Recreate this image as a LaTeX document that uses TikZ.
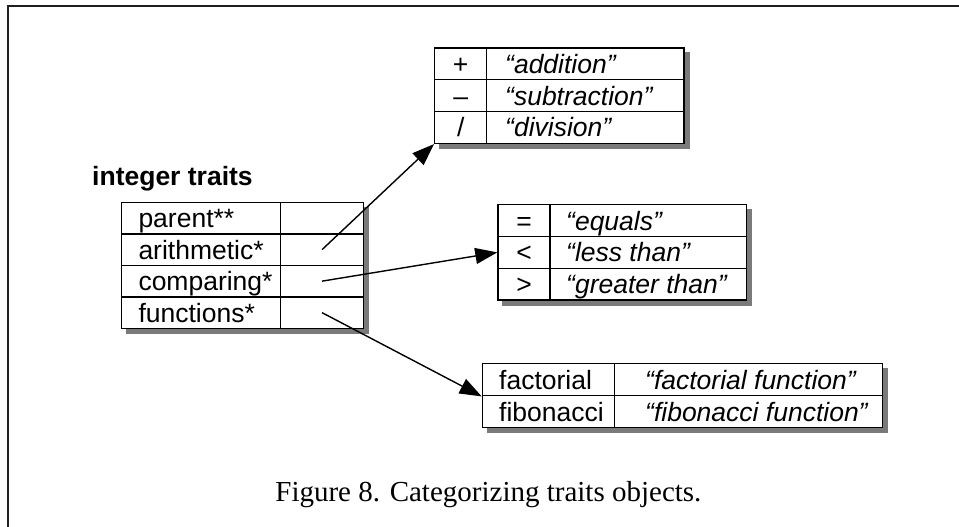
\documentclass[tikz,border=0pt]{standalone}
\usepackage{fontspec}
\setmainfont{Liberation Serif}
\newfontfamily\arialf{Liberation Sans}
\usetikzlibrary{arrows.meta,backgrounds}
\begin{document}
\begin{tikzpicture}[x=1pt,y=-1pt,
  cell/.style={draw, line width=1.4pt, fill=white, inner sep=0pt, anchor=north west},
  txt/.style={font=\arialf\fontsize{26.5}{30}\selectfont, inner sep=0pt, text height=18.9pt, text depth=0pt},
  ltxt/.style={txt, anchor=west},
  itxt/.style={txt, anchor=west, font=\arialf\itshape\fontsize{26.5}{30}\selectfont},
  ctxt/.style={txt, anchor=center},
  shadowfill/.style={fill=black!52},
  arr/.style={line width=1.4pt, -{Triangle[length=22pt,width=16pt]}}]
\useasboundingbox (0,0) rectangle (959,527);
% frame
\draw[line width=2.2pt, black!88] (959,6) -- (8,6) -- (8,527);
% title
\node[anchor=base west, inner sep=0pt, font=\arialf\bfseries\fontsize{26.5}{30}\selectfont] (title) at (92,185) {integer traits};
% main table
\node[cell, minimum width=159.3pt, minimum height=31.5pt] (mPa) at (120.7,201.7) {};
\node[cell, minimum width=82.7pt, minimum height=31.5pt] (mPv) at (280,201.7) {};
\node[cell, minimum width=159.3pt, minimum height=31.5pt] (mAa) at (120.7,233.2) {};
\node[cell, minimum width=82.7pt, minimum height=31.5pt] (mAv) at (280,233.2) {};
\node[cell, minimum width=159.3pt, minimum height=31.5pt] (mCa) at (120.7,264.7) {};
\node[cell, minimum width=82.7pt, minimum height=31.5pt] (mCv) at (280,264.7) {};
\node[cell, minimum width=159.3pt, minimum height=31.5pt] (mFa) at (120.7,296.2) {};
\node[cell, minimum width=82.7pt, minimum height=31.5pt] (mFv) at (280,296.2) {};
\node[ltxt] (lP) at ([xshift=17.6pt]mPa.west) {parent**};
\node[ltxt] (lA) at ([xshift=17.6pt]mAa.west) {arithmetic*};
\node[ltxt] (lC) at ([xshift=17.6pt]mCa.west) {comparing*};
\node[ltxt] (lF) at ([xshift=17.6pt]mFa.west) {functions*};
% top table (arithmetic)
\node[cell, minimum width=52pt, minimum height=31.8pt] (tAs) at (434,47.3) {};
\node[cell, minimum width=197.3pt, minimum height=31.8pt] (tAt) at (486,47.3) {};
\node[cell, minimum width=52pt, minimum height=31.8pt] (tSs) at (434,79.1) {};
\node[cell, minimum width=197.3pt, minimum height=31.8pt] (tSt) at (486,79.1) {};
\node[cell, minimum width=52pt, minimum height=31.8pt] (tDs) at (434,110.9) {};
\node[cell, minimum width=197.3pt, minimum height=31.8pt] (tDt) at (486,110.9) {};
\node[ctxt] (sA) at (tAs.center) {+};
\node[ctxt] (sS) at (tSs.center) {–};
\node[ctxt] (sD) at (tDs.center) {/};
\node[itxt] (xA) at ([xshift=19pt]tAt.west) {“addition”};
\node[itxt] (xS) at ([xshift=19pt]tSt.west) {“subtraction”};
\node[itxt] (xD) at ([xshift=19pt]tDt.west) {“division”};
% middle table (comparing)
\node[cell, minimum width=52pt, minimum height=31.8pt] (cEs) at (497.3,204) {};
\node[cell, minimum width=196.7pt, minimum height=31.8pt] (cEt) at (549.3,204) {};
\node[cell, minimum width=52pt, minimum height=31.8pt] (cLs) at (497.3,235.8) {};
\node[cell, minimum width=196.7pt, minimum height=31.8pt] (cLt) at (549.3,235.8) {};
\node[cell, minimum width=52pt, minimum height=31.8pt] (cGs) at (497.3,267.6) {};
\node[cell, minimum width=196.7pt, minimum height=31.8pt] (cGt) at (549.3,267.6) {};
\node[ctxt] (sE) at (cEs.center) {=};
\node[ctxt] (sL) at (cLs.center) {<};
\node[ctxt] (sG) at (cGs.center) {>};
\node[itxt] (xE) at ([xshift=16.7pt]cEt.west) {“equals”};
\node[itxt] (xL) at ([xshift=16.7pt]cLt.west) {“less than”};
\node[itxt] (xG) at ([xshift=16.7pt]cGt.west) {“greater than”};
% bottom table (functions)
\node[cell, minimum width=132.3pt, minimum height=32pt] (bFa) at (481.7,363) {};
\node[cell, minimum width=267.7pt, minimum height=32pt] (bFt) at (614,363) {};
\node[cell, minimum width=132.3pt, minimum height=32pt] (bBa) at (481.7,395) {};
\node[cell, minimum width=267.7pt, minimum height=32pt] (bBt) at (614,395) {};
\node[ltxt] (nF) at ([xshift=17.3pt]bFa.west) {factorial};
\node[ltxt] (nB) at ([xshift=17.3pt]bBa.west) {fibonacci};
\node[itxt] (dF) at ([xshift=31pt]bFt.west) {“factorial function”};
\node[itxt] (dB) at ([xshift=31pt]bBt.west) {“fibonacci function”};
% shadows
\begin{scope}[on background layer]
\fill[shadowfill] ([shift={(5,5)}]mPa.north west) rectangle ([shift={(5,5)}]mFv.south east);
\fill[shadowfill] ([shift={(5,5)}]tAs.north west) rectangle ([shift={(5,5)}]tDt.south east);
\fill[shadowfill] ([shift={(5,5)}]cEs.north west) rectangle ([shift={(5,5)}]cGt.south east);
\fill[shadowfill] ([shift={(5,5)}]bFa.north west) rectangle ([shift={(5,5)}]bBt.south east);
\end{scope}
% connectors
\draw[arr] (mAv.center) -- (tDs.south west);
\draw[arr] (mCv.center) -- (cLs.west);
\draw[arr] (mFv.center) -- (bFa.south west);
% caption
\node[anchor=base, inner sep=0pt, font=\fontsize{29}{33}\selectfont] (cap) at (488.4,501) {Figure 8. Categorizing traits objects.};
\end{tikzpicture}
\end{document}
